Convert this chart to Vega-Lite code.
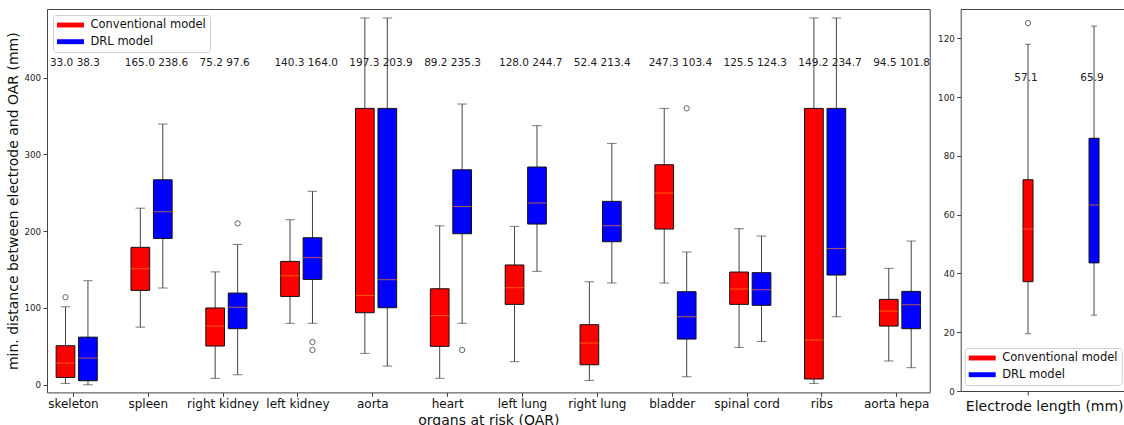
{
  "$schema": "https://vega.github.io/schema/vega-lite/v6.json",
  "padding": {"left": 6, "top": 8, "right": 0, "bottom": 0},
  "bounds": "flush",
  "spacing": 30.7,
  "config": {
    "font": "DejaVu Sans",
    "view": {"stroke": "#444", "strokeWidth": 1},
    "axis": {"grid": false, "domain": false, "tickColor": "#444", "tickSize": 4, "labelColor": "#222", "titleColor": "#111", "titleFontWeight": "normal"},
    "legend": {"title": null, "padding": 4, "rowPadding": 4.7, "labelFontSize": 11.5, "labelColor": "#111", "symbolType": "M-2.25,-0.41H2.25V0.41H-2.25Z", "symbolSize": 144, "symbolStrokeWidth": 0, "symbolOffset": 7.5, "labelOffset": 14, "fillColor": "rgba(255,255,255,0.85)", "strokeColor": "#d0d0d0", "cornerRadius": 3}
  },
  "resolve": {"legend": {"color": "independent"}},
  "datasets": {
    "stats": [
      {"organ": "skeleton", "model": "Conventional model", "lower": 1.7, "q1": 9.5, "median": 28.2, "q3": 50.8, "upper": 101.6, "mean": 33.0},
      {"organ": "skeleton", "model": "DRL model", "lower": 0, "q1": 5.2, "median": 34.7, "q3": 62, "upper": 135.5, "mean": 38.3},
      {"organ": "spleen", "model": "Conventional model", "lower": 75, "q1": 122.9, "median": 151, "q3": 179, "upper": 230, "mean": 165.0},
      {"organ": "spleen", "model": "DRL model", "lower": 126, "q1": 190.6, "median": 225.4, "q3": 267, "upper": 339.6, "mean": 238.6},
      {"organ": "right kidney", "model": "Conventional model", "lower": 8.3, "q1": 50.4, "median": 76.4, "q3": 100, "upper": 147, "mean": 75.2},
      {"organ": "right kidney", "model": "DRL model", "lower": 13, "q1": 73, "median": 101, "q3": 119.4, "upper": 182.8, "mean": 97.6},
      {"organ": "left kidney", "model": "Conventional model", "lower": 80, "q1": 115, "median": 142, "q3": 160.7, "upper": 215, "mean": 140.3},
      {"organ": "left kidney", "model": "DRL model", "lower": 80, "q1": 137.2, "median": 165.5, "q3": 191.5, "upper": 252, "mean": 164.0},
      {"organ": "aorta", "model": "Conventional model", "lower": 40.8, "q1": 93.8, "median": 116.4, "q3": 360, "upper": 477.8, "mean": 197.3},
      {"organ": "aorta", "model": "DRL model", "lower": 24.3, "q1": 100.3, "median": 136.8, "q3": 360, "upper": 477.8, "mean": 203.9},
      {"organ": "heart", "model": "Conventional model", "lower": 8.3, "q1": 50, "median": 90, "q3": 125, "upper": 207, "mean": 89.2},
      {"organ": "heart", "model": "DRL model", "lower": 80, "q1": 196.7, "median": 232.3, "q3": 280, "upper": 365.7, "mean": 235.3},
      {"organ": "left lung", "model": "Conventional model", "lower": 30, "q1": 104.7, "median": 126.4, "q3": 156, "upper": 206.3, "mean": 128.0},
      {"organ": "left lung", "model": "DRL model", "lower": 147.7, "q1": 209.3, "median": 236.7, "q3": 283.6, "upper": 337.5, "mean": 244.7},
      {"organ": "right lung", "model": "Conventional model", "lower": 5.6, "q1": 26, "median": 54.3, "q3": 78.2, "upper": 134.2, "mean": 52.4},
      {"organ": "right lung", "model": "DRL model", "lower": 132.5, "q1": 186.3, "median": 207.2, "q3": 238.9, "upper": 314.4, "mean": 213.4},
      {"organ": "bladder", "model": "Conventional model", "lower": 132.5, "q1": 202.8, "median": 249.7, "q3": 286.6, "upper": 360, "mean": 247.3},
      {"organ": "bladder", "model": "DRL model", "lower": 10.4, "q1": 59.5, "median": 88.6, "q3": 121.2, "upper": 172.9, "mean": 103.4},
      {"organ": "spinal cord", "model": "Conventional model", "lower": 48.6, "q1": 104.7, "median": 124.7, "q3": 146.8, "upper": 203.3, "mean": 125.5},
      {"organ": "spinal cord", "model": "DRL model", "lower": 56.4, "q1": 103.4, "median": 123.8, "q3": 146, "upper": 193.7, "mean": 124.3},
      {"organ": "ribs", "model": "Conventional model", "lower": 1.7, "q1": 7.4, "median": 58.2, "q3": 360, "upper": 477.8, "mean": 149.2},
      {"organ": "ribs", "model": "DRL model", "lower": 88.6, "q1": 142.9, "median": 177.6, "q3": 360, "upper": 477.8, "mean": 234.7},
      {"organ": "aorta hepa", "model": "Conventional model", "lower": 30.9, "q1": 76.4, "median": 96, "q3": 111.2, "upper": 151.6, "mean": 94.5},
      {"organ": "aorta hepa", "model": "DRL model", "lower": 22.2, "q1": 73, "median": 104.2, "q3": 121.6, "upper": 187.2, "mean": 101.8}
    ],
    "outliers": [
      {"organ": "skeleton", "model": "Conventional model", "value": 114},
      {"organ": "right kidney", "model": "DRL model", "value": 210.2},
      {"organ": "left kidney", "model": "DRL model", "value": 55.6},
      {"organ": "left kidney", "model": "DRL model", "value": 45.2},
      {"organ": "heart", "model": "DRL model", "value": 45.2},
      {"organ": "bladder", "model": "DRL model", "value": 360}
    ],
    "elec": [
      {"model": "Conventional model", "lower": 19.5, "q1": 37.2, "median": 55.1, "q3": 71.9, "upper": 118, "mean": 57.1},
      {"model": "DRL model", "lower": 25.8, "q1": 43.6, "median": 63.3, "q3": 86, "upper": 124.2, "mean": 65.9}
    ],
    "elecOut": [
      {"model": "Conventional model", "value": 125.2}
    ]
  },
  "hconcat": [
    {
      "width": 882.7,
      "height": 383.4,
      "layer": [
        {
          "data": {"name": "stats"},
          "mark": {"type": "rule", "color": "#444", "strokeWidth": 1},
          "encoding": {
            "x": {"field": "organ", "type": "nominal", "scale": {"domain": ["skeleton","spleen","right kidney","left kidney","aorta","heart","left lung","right lung","bladder","spinal cord","ribs","aorta hepa"], "paddingInner": 0.45, "paddingOuter": 0.122},
                  "axis": {"labelAngle": 0, "labelFontSize": 12, "labelColor": "#111", "tickOffset": -3.8, "labelPadding": 2.5, "title": "organs at risk (OAR)", "titleFontSize": 14, "titlePadding": 4}},
            "xOffset": {"field": "model", "type": "nominal", "scale": {"domain": ["Conventional model", "DRL model"], "paddingInner": 0.1667, "paddingOuter": 0}},
            "y": {"field": "lower", "type": "quantitative", "title": "min. distance between electrode and OAR (mm)",
                  "scale": {"domain": [-10, 489.5], "nice": false, "zero": false},
                  "axis": {"values": [0, 100, 200, 300, 400], "labelFontSize": 8.7, "labelPadding": 2.5, "titleFontSize": 14, "titlePadding": 3}},
            "y2": {"field": "upper"}
          }
        },
        {
          "data": {"name": "stats"},
          "mark": {"type": "tick", "color": "#444", "size": 9.5, "thickness": 1},
          "encoding": {
            "x": {"field": "organ", "type": "nominal"},
            "xOffset": {"field": "model", "type": "nominal"},
            "y": {"field": "lower", "type": "quantitative", "title": "min. distance between electrode and OAR (mm)"}
          }
        },
        {
          "data": {"name": "stats"},
          "mark": {"type": "tick", "color": "#444", "size": 9.5, "thickness": 1},
          "encoding": {
            "x": {"field": "organ", "type": "nominal"},
            "xOffset": {"field": "model", "type": "nominal"},
            "y": {"field": "upper", "type": "quantitative", "title": "min. distance between electrode and OAR (mm)"}
          }
        },
        {
          "data": {"name": "stats"},
          "mark": {"type": "bar", "stroke": "#111", "strokeWidth": 1},
          "encoding": {
            "x": {"field": "organ", "type": "nominal"},
            "xOffset": {"field": "model", "type": "nominal"},
            "y": {"field": "q1", "type": "quantitative", "title": "min. distance between electrode and OAR (mm)"},
            "y2": {"field": "q3"},
            "color": {"field": "model", "type": "nominal", "scale": {"domain": ["Conventional model", "DRL model"], "range": ["#ff0000", "#0000ff"]},
                      "legend": {"orient": "top-left", "offset": 6}}
          }
        },
        {
          "data": {"name": "stats"},
          "mark": {"type": "tick", "color": "#ff7f0e", "size": 18.7, "thickness": 1},
          "encoding": {
            "x": {"field": "organ", "type": "nominal"},
            "xOffset": {"field": "model", "type": "nominal"},
            "y": {"field": "median", "type": "quantitative", "title": "min. distance between electrode and OAR (mm)"}
          }
        },
        {
          "data": {"name": "outliers"},
          "mark": {"type": "point", "shape": "circle", "filled": false, "color": "#222", "strokeWidth": 1, "size": 28},
          "encoding": {
            "x": {"field": "organ", "type": "nominal"},
            "xOffset": {"field": "model", "type": "nominal"},
            "y": {"field": "value", "type": "quantitative", "title": "min. distance between electrode and OAR (mm)"}
          }
        },
        {
          "data": {"name": "stats"},
          "transform": [{"pivot": "model", "value": "mean", "groupby": ["organ"]}],
          "mark": {"type": "text", "align": "left", "baseline": "alphabetic", "dx": -26.8, "fontSize": 10.5, "color": "#222",
                   "text": {"expr": "format(datum['Conventional model'], '.1f') + ' ' + format(datum['DRL model'], '.1f')"}},
          "encoding": {
            "x": {"field": "organ", "type": "nominal"},
            "y": {"datum": 415.5, "type": "quantitative"}
          }
        }
      ]
    },
    {
      "width": 167,
      "height": 382,
      "layer": [
        {
          "data": {"name": "elec"},
          "mark": {"type": "rule", "color": "#444", "strokeWidth": 1},
          "encoding": {
            "x": {"field": "model", "type": "nominal", "scale": {"domain": ["Conventional model", "DRL model"], "paddingInner": 0.8485, "paddingOuter": 0.689, "align": 0.685},
                  "axis": {"values": ["Conventional model"], "labels": false, "title": "Electrode length (mm)", "titleFontSize": 14, "titlePadding": 4}},
            "y": {"field": "lower", "type": "quantitative", "title": null,
                  "scale": {"domain": [0, 130], "nice": false, "zero": false},
                  "axis": {"values": [0, 20, 40, 60, 80, 100, 120], "labelFontSize": 8.7, "labelPadding": 2.5}},
            "y2": {"field": "upper"}
          }
        },
        {
          "data": {"name": "elec"},
          "mark": {"type": "tick", "color": "#444", "size": 6, "thickness": 1},
          "encoding": {
            "x": {"field": "model", "type": "nominal"},
            "y": {"field": "lower", "type": "quantitative", "title": null}
          }
        },
        {
          "data": {"name": "elec"},
          "mark": {"type": "tick", "color": "#444", "size": 6, "thickness": 1},
          "encoding": {
            "x": {"field": "model", "type": "nominal"},
            "y": {"field": "upper", "type": "quantitative", "title": null}
          }
        },
        {
          "data": {"name": "elec"},
          "mark": {"type": "bar", "stroke": "#111", "strokeWidth": 1},
          "encoding": {
            "x": {"field": "model", "type": "nominal"},
            "y": {"field": "q1", "type": "quantitative", "title": null},
            "y2": {"field": "q3"},
            "color": {"field": "model", "type": "nominal", "scale": {"domain": ["Conventional model", "DRL model"], "range": ["#ff0000", "#0000ff"]},
                      "legend": {"orient": "bottom-right", "offset": 6}}
          }
        },
        {
          "data": {"name": "elec"},
          "mark": {"type": "tick", "color": "#ff7f0e", "size": 10, "thickness": 1},
          "encoding": {
            "x": {"field": "model", "type": "nominal"},
            "y": {"field": "median", "type": "quantitative", "title": null}
          }
        },
        {
          "data": {"name": "elecOut"},
          "mark": {"type": "point", "shape": "circle", "filled": false, "color": "#222", "strokeWidth": 1, "size": 28},
          "encoding": {
            "x": {"field": "model", "type": "nominal"},
            "y": {"field": "value", "type": "quantitative", "title": null}
          }
        },
        {
          "data": {"name": "elec"},
          "mark": {"type": "text", "align": "center", "baseline": "alphabetic", "dx": -2, "fontSize": 10.5, "color": "#222"},
          "encoding": {
            "x": {"field": "model", "type": "nominal"},
            "y": {"datum": 105.5, "type": "quantitative"},
            "text": {"field": "mean", "type": "quantitative", "format": ".1f"}
          }
        }
      ]
    }
  ]
}
